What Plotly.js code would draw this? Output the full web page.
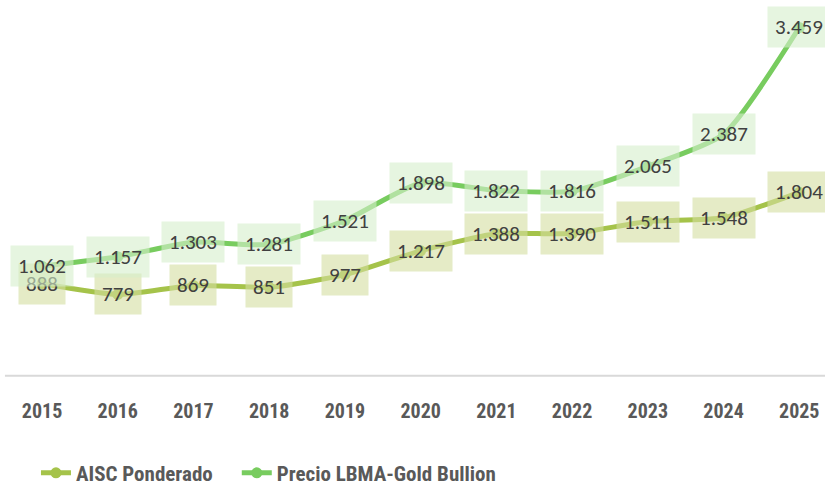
<!DOCTYPE html>
<html>
<head>
<meta charset="utf-8">
<script src="https://cdn.plot.ly/plotly-3.0.1.min.js"></script>
<style>html,body{margin:0;padding:0;background:#fff;}#chart{width:825px;height:485px;}</style>
</head>
<body>
<div id="chart"></div>
<script>
const years = ['2015','2016','2017','2018','2019','2020','2021','2022','2023','2024','2025'];
const aisc = [888, 779, 869, 851, 977, 1217, 1388, 1390, 1511, 1548, 1804];
const lbma = [1062, 1157, 1303, 1281, 1521, 1898, 1822, 1816, 2065, 2387, 3459];
const seriesNames = ['AISC Ponderado', 'Precio LBMA-Gold Bullion'];

const colAisc = '#a5c34a';
const colLbma = '#78cc5f';
const condensed = 'Roboto Condensed, Open Sans Condensed, sans-serif';

function fmt(v){ return String(v).replace(/\B(?=(\d{3})+(?!\d))/g, '.'); }

const traces = [
  {x: years, y: aisc, name: seriesNames[0], type: 'scatter', mode: 'lines+markers', legend: 'legend',
   line: {color: colAisc, width: 5, shape: 'spline', smoothing: 0.6},
   marker: {color: colAisc, size: 11}},
  {x: years, y: lbma, name: seriesNames[1], type: 'scatter', mode: 'lines+markers', legend: 'legend2',
   line: {color: colLbma, width: 5, shape: 'spline', smoothing: 0.6},
   marker: {color: colLbma, size: 11}}
];

const annotations = [];
function addLabels(vals, bg){
  vals.forEach((v, i) => {
    annotations.push({x: i, y: v, xref: 'x', yref: 'y', text: fmt(v), showarrow: false,
      font: {family: 'Carlito, Liberation Sans, sans-serif', size: 21, color: '#404040'},
      bgcolor: bg, borderpad: 7, xanchor: 'center', yanchor: 'middle'});
  });
}
addLabels(aisc, 'rgba(212,222,160,0.6)');
addLabels(lbma, 'rgba(214,238,203,0.6)');

const legendFont = {family: condensed, size: 21, color: '#595959', weight: 'bold'};

const layout = {
  width: 825, height: 485,
  margin: {l: 0, r: 0, t: 0, b: 113, autoexpand: false},
  paper_bgcolor: '#fff', plot_bgcolor: '#fff',
  showlegend: true,
  legend: {orientation: 'h', x: 0.0436, xanchor: 'left', y: -0.272, yanchor: 'middle', font: legendFont},
  legend2: {orientation: 'h', x: 0.287, xanchor: 'left', y: -0.272, yanchor: 'middle', font: legendFont},
  xaxis: {type: 'category', range: [-0.555, 10.34], showgrid: false, zeroline: false,
    showline: false, ticks: 'outside', ticklen: 21, tickcolor: 'rgba(0,0,0,0)', automargin: false,
    tickfont: {family: condensed, size: 20, color: '#595959', weight: 'bold'}},
  yaxis: {range: [0, 3735], visible: false, showgrid: false, zeroline: false},
  shapes: [{type: 'line', xref: 'paper', yref: 'paper', x0: 0.006, x1: 1, y0: -0.01, y1: -0.01,
    line: {color: '#d9d9d9', width: 2}}],
  annotations: annotations
};

Plotly.newPlot('chart', traces, layout, {displayModeBar: false});
</script>
</body>
</html>
